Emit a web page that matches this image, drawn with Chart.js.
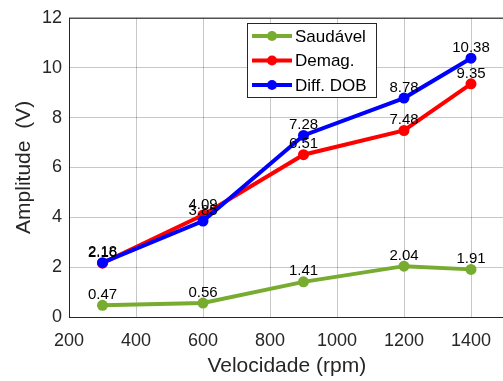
<!DOCTYPE html>
<html>
<head>
<meta charset="utf-8">
<script src="https://cdn.jsdelivr.net/npm/chart.js@4"></script>
<style>
  html, body { margin: 0; padding: 0; background: #fff; overflow: hidden; }
  #wrap { width: 510px; height: 381px; }
</style>
</head>
<body>
<div id="wrap"><canvas id="chart" width="510" height="381"></canvas></div>
<script>
// --- data ---
const velocidade = [300, 600, 900, 1200, 1400];
const saudavel = [0.47, 0.56, 1.41, 2.04, 1.91];
const demag = [2.16, 4.09, 6.51, 7.48, 9.35];
const diffDob = [2.18, 3.85, 7.28, 8.78, 10.38];
const xTicks = [200, 400, 600, 800, 1000, 1200, 1400];
const yTicks = [0, 2, 4, 6, 8, 10, 12];

const FONT = "'Liberation Sans', Arial, sans-serif";

function toPoints(ys) {
  return velocidade.map((v, i) => ({ x: v, y: ys[i] }));
}

// value labels above each marker
const valueLabels = {
  id: 'valueLabels',
  afterDatasetsDraw(chart) {
    const ctx = chart.ctx;
    ctx.save();
    ctx.font = '15px ' + FONT;
    ctx.fillStyle = '#000';
    ctx.textAlign = 'center';
    ctx.textBaseline = 'bottom';
    chart.data.datasets.forEach((ds, i) => {
      chart.getDatasetMeta(i).data.forEach((pt, j) => {
        ctx.fillText(ds.data[j].y.toFixed(2), pt.x, pt.y - 3);
      });
    });
    ctx.restore();
  }
};

// box around the axes + legend inside the plot, matlab style
const boxAndLegend = {
  id: 'boxAndLegend',
  afterDraw(chart) {
    const ctx = chart.ctx;
    const a = chart.chartArea;
    ctx.save();
    ctx.strokeStyle = '#262626';
    ctx.lineWidth = 1;
    ctx.strokeRect(a.left + 0.5, a.top + 0.5, a.right - a.left, a.bottom - a.top);

    // legend
    const lx = 247, ly = 23, lw = 129, lh = 74;
    ctx.fillStyle = '#fff';
    ctx.fillRect(lx, ly, lw, lh);
    ctx.strokeStyle = '#262626';
    ctx.strokeRect(lx + 0.5, ly + 0.5, lw, lh);
    ctx.font = '17px ' + FONT;
    ctx.textBaseline = 'middle';
    ctx.textAlign = 'left';
    chart.data.datasets.forEach((ds, i) => {
      const y = ly + 13 + i * 24.5;
      ctx.strokeStyle = ds.borderColor;
      ctx.lineWidth = 4;
      ctx.beginPath();
      ctx.moveTo(lx + 5, y);
      ctx.lineTo(lx + 45, y);
      ctx.stroke();
      ctx.fillStyle = ds.borderColor;
      ctx.beginPath();
      ctx.arc(lx + 25, y, 5, 0, Math.PI * 2);
      ctx.fill();
      ctx.fillStyle = '#000';
      ctx.fillText(ds.label, lx + 48, y + 1);
    });
    ctx.restore();
  }
};

new Chart(document.getElementById('chart'), {
  type: 'line',
  data: {
    datasets: [
      { label: 'Saudável', data: toPoints(saudavel), borderColor: '#77AC30', backgroundColor: '#77AC30', order: 2 },
      { label: 'Demag.', data: toPoints(demag), borderColor: '#FF0000', backgroundColor: '#FF0000', order: 1 },
      { label: 'Diff. DOB', data: toPoints(diffDob), borderColor: '#0000FF', backgroundColor: '#0000FF', order: 0 }
    ]
  },
  options: {
    responsive: false,
    animation: false,
    layout: { padding: { left: 0, top: 17, right: 3, bottom: 0 } },
    elements: {
      line: { borderWidth: 4, tension: 0 },
      point: { radius: 5.5, borderWidth: 0 }
    },
    plugins: {
      legend: { display: false },
      tooltip: { enabled: false }
    },
    scales: {
      x: {
        type: 'linear',
        min: 200,
        max: 1500,
        afterBuildTicks(scale) { scale.ticks = xTicks.map(v => ({ value: v })); },
        afterFit(scale) { scale.height = 64; },
        grid: { color: 'rgba(0,0,0,0.22)', drawTicks: false },
        border: { display: false },
        ticks: { padding: 13, color: '#262626', font: { family: FONT, size: 18 }, maxRotation: 0, callback: v => String(v) },
        title: { display: true, text: 'Velocidade (rpm)', color: '#262626', font: { family: FONT, size: 21 }, padding: { top: 0, bottom: 2 } }
      },
      y: {
        min: 0,
        max: 12,
        afterBuildTicks(scale) { scale.ticks = yTicks.map(v => ({ value: v })); },
        afterFit(scale) { scale.width = 69; },
        grid: { color: 'rgba(0,0,0,0.22)', drawTicks: false },
        border: { display: false },
        ticks: { padding: 7, color: '#262626', font: { family: FONT, size: 18 }, callback: v => String(v) },
        title: { display: true, text: 'Amplitude  (V)', color: '#262626', font: { family: FONT, size: 21 }, padding: { top: 12, bottom: 0 } }
      }
    }
  },
  plugins: [valueLabels, boxAndLegend]
});
</script>
</body>
</html>
